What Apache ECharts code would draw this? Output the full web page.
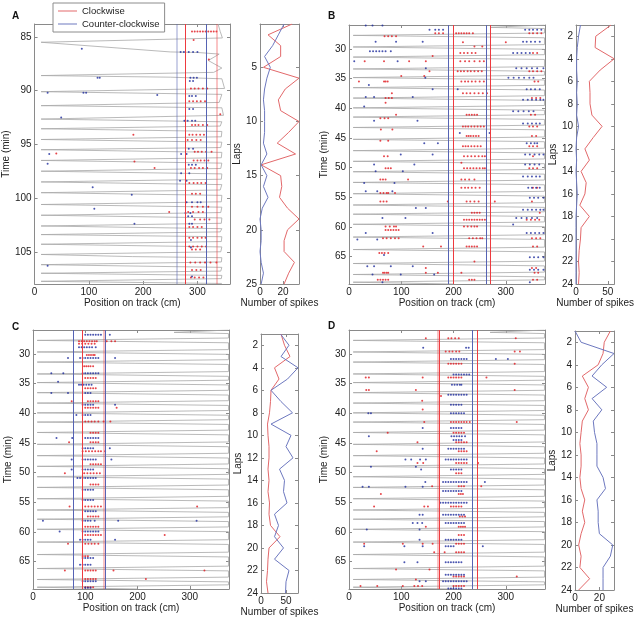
<!DOCTYPE html>
<html lang="en">
<head>
<meta charset="UTF-8">
<title>Spikes per lap</title>
<style>html,body{margin:0;background:#fff}#main{width:636px;height:621px}</style>
</head>
<body>
<div id="main"></div>
<script src="https://cdn.jsdelivr.net/npm/echarts@6/dist/echarts.min.js"></script>
<script>
// ---- data ----
// trajectory turning points [position cm, time min]
const trajA = [[338,83.8],[342,84.5],[346,85.1],[12,85.5],[250,86.4],[300,86.45],[340,86.6],[320,87.2],[345,87.9],[330,88.3],
  [12,88.6],[250,88.75],[345,88.9],[350,89.8],[12,90.1],[345,90.35],[340,91.1],[12,91.4],[345,91.6],[348,92.3],[12,92.65],
  [345,92.9],[342,93.3],[12,93.55],[345,93.8],[344,94.3],[12,94.55],[345,94.8],[343,95.3],[12,95.5],[345,95.75],[344,96.25],
  [12,96.5],[345,96.75],[343,97.25],[12,97.5],[345,97.75],[344,98.25],[12,98.5],[345,98.75],[342,99.25],[12,99.5],[345,99.75],
  [344,100.35],[12,100.6],[345,100.85],[343,101.35],[12,101.6],[345,101.85],[344,102.35],[12,102.6],[345,102.85],[342,103.15],
  [12,103.4],[345,103.6],[344,104.05],[12,104.3],[345,104.55],[343,105.0],[12,105.25],[180,105.45],[345,105.55],[344,105.95],
  [12,106.2],[345,106.45],[343,106.8],[12,107.0],[345,107.2],[344,107.5],[12,107.75],[345,107.95]];
const trajBCD = [[374,26.0],[270,26.4],[374,26.6],[374,27.35],[8,27.75],[374,28.15],[374,29.3],[8,29.7],[374,30.1],[374,31.0],
  [8,31.4],[374,31.8],[374,33.0],[8,33.4],[374,33.8],[374,34.45],[8,34.85],[374,35.25],[374,36.15],[8,36.55],[374,36.95],
  [374,37.9],[8,38.3],[374,38.7],[374,39.55],[8,39.95],[374,40.35],[374,41.1],[8,41.5],[374,41.9],[374,42.85],[8,43.25],
  [374,43.65],[374,44.85],[8,45.25],[374,45.65],[374,46.75],[8,47.15],[374,47.55],[374,48.55],[8,48.95],[374,49.35],
  [374,50.3],[8,50.7],[374,51.1],[374,52.1],[8,52.5],[374,52.9],[374,54.0],[8,54.4],[374,54.8],[374,55.9],[8,56.3],
  [374,56.7],[374,57.45],[8,57.85],[374,58.25],[374,59.15],[8,59.55],[374,59.95],[374,61.3],[8,61.7],[374,62.1],[374,63.4],
  [8,63.8],[374,64.2],[374,65.75],[8,66.15],[374,66.55],[374,67.6],[8,68.0],[374,68.4],[374,68.9],[8,69.3],[200,69.6]];

// spikes: [time, position, position, ...]
const redA = [[84.5,290,295,300,305,310,315,320,325,330,335],[85.3,293],[87.1,321],[89.8,288,295,302,310,318],
  [91.0,285,292,299,306,314],[92.2,342],[93.2,290,296,302,310,318],[94.1,182,285,291,298,305,312],[94.6,282,290,298,306],
  [95.7,295,301,308,316,326],[95.85,40],[96.5,293,300,306,313,320],[96.6,184],[97.2,221,288,295,303,310,318],
  [98.6,285,293,300,307,315],[99.6,290,297,305],[100.8,290,300,310,320],[101.3,248,283,292,302,310],[102.0,295,305,313,322],
  [102.7,285,292,300,308],[103.7,285,292,300,308,315],[104.5,285,292,300,308,316],[104.8,290,297,305],
  [106.0,287,296,305,314,324,335],[106.7,290,298,306],[107.4,288,295,303,311]];
const blueA = [[86.1,87],[86.4,269,275,284,292,300],[88.8,116,120,287,293,299],[89.1,286,292],[90.2,24,90,95],[90.4,226],
  [90.5,285,290,297],[91.7,285,292],[92.5,49],[92.8,276,282,290,296],[95.4,284,292],[95.9,27,270,280],[96.8,24],
  [96.9,284,290,297],[97.7,270,285],[98.4,268,280],[99.0,107],[99.7,179],[100.4,280,290,300,306],[101.0,110],[101.4,278,287],
  [101.7,283,290],[102.4,184,285,290],[103.9,288],[104.6,288],[106.3,24],[107.3,290]];
const redB = [[27.4,165,172,180,205,210,215,220,225,230,237,345,352,360,368],[27.9,68,75,82,90],[28.9,218,300],[29.6,240,255],
  [30.7,213,220,227,235,242,352,360],[31.2,160],[32.1,30,67,115,147,213,222,230,240,250,258],
  [33.8,154,208,214,220,227,233,240,247,254,345,352,360,368],[34.6,100,144],[35.5,19,67,70,74,215,222,228,235,242,250,258,355,362],
  [37.5,82,218,225,232,240,248,256,264],[38.3,70,76,82,350,358,366],[39.1,70],[41.1,90,225,230,235,240,245,348,356],[41.7,60,68,75],
  [43.1,218,223,228,234,240,246,252,258,345,352,360],[43.6,61,83],[44.7,225,229,233,238,243,248,350,358],[45.5,60,75],
  [46.4,218,223,228,234,240,246,252,345,352,360],[48.1,67,74,220,227,234,241,248,255,260,352],[49.2,215],
  [50.1,70,75,80,220,226,232,238,244,250,256,260,345,352,360],[52.0,60,65,70,113,215,222,230,240],
  [53.4,215,222,228,235,242,250,352,360],[54.3,60,66,72,75,88],[55.7,60,66,72,189,225,232,240,248,279,350],
  [57.6,235,240,245,250,365],[58.8,220,225,230,235,240,245,250,255,260,340,348,356,364],[59.9,70,78,86,90,220,227,234,240,245],
  [60.5,70,75,80,85,90,95],[61.9,65,72,80,88,95,230,237,244,251,255,350,358,366],[63.3,142,176,225,230,235,240,245,352,360],
  [64.4,58,63,68,75],[65.8,240],[66.9,147,350,358],[67.7,65,68,72,75,147,170,215,355,362],[68.9,55,60,65,70,75,230,235,240,352,360]];
const blueB = [[26.1,32,45,64],[26.8,154,165,172,180,337,345,352,360,368],[28.8,51,90,141,333,340,348,356,365],
  [30.4,40,46,52,58,64,70,80],[30.7,314,322,330,338,346],[32.1,10,93],[33.3,147,320,330,340,350,360,372],
  [34.9,146,305,315,325,335,345,353],[36.1,38],[36.8,160,208,340,348,356,365],[38.1,32,48,122],[38.6,333,342,350,358,366,372],
  [39.7,29],[40.5,314,324,334,344,353],[42.1,48,131],[42.6,333,342,350,358,365],[44.2,212,269],[45.9,144,170,340,348,355,360],
  [47.8,99,160,337,346,355,364,372],[49.5,48,125,337,346,355,364],[50.6,51,103],[51.5,333,342,350,358,365],[52.6,29,87],
  [53.4,343,350,358,365],[54.0,32,54,83],[55.1,346,354,362,372],[56.8,128,147],[57.1,333,342,350,358,366,372],
  [58.5,64,108,320,330,340,350,360],[59.6,314],[61.0,32,160,340,348,356,364,372],[62.1,16,54],[64.7,67],[65.1,346,354,362,372],
  [66.6,35,48,80,122],[67.2,346,354,362,372],[68.0,45,99,163],[69.3,64,346]];
const redC = [[27.9,88,93,98,103,108,113,118,122,141,150,157],[28.3,88,94,100,106,112,118],[30.2,103,107,111,115,118],
  [32.1,98,102,106,110,115],[34.1,100,105,110,115,120],[35.8,100,105,110,115,120],[38.0,74,105,110,115,120,125],
  [39.1,100,105,110,115,120,125,160],[41.4,100,106,112,118,125,135,148],[43.3,110,115,120,125],[44.9,69,110,115,120,125],
  [46.4,95,101,107,113,119,125,130,138],[48.6,110,115,120,125,130],[50.1,61,98,104,110,116,122,128],[52.0,110,115,120,125],
  [55.7,70,100,106,112,118,124,130,314],[57.4,105,110,115,120,125],[59.1,100,105,110,115,120,125],
  [60.5,100,105,110,115,120,125,130,252],[62.0,67,100,106,112,118,125],[64.1,95,100,105],[66.5,61,100,105,110,115,120,154,328],
  [67.9,100,105,110,115,120,216],[69.3,100,105,110,115]];
const blueC = [[26.8,100,105,110,115,120,125,130,147],[28.9,88,93,98,103,108,113,120],[30.7,67,90,95,100,105,110,115,120,125,157],
  [33.3,35,58,95,100,105,110,115,120,125],[34.7,48],[35.2,88,92,97,102,107,112],[36.6,35,67,100,105,110],
  [38.6,95,100,105,110,115,157],[40.3,83,95,100,105,110],[44.2,45,75,100,105,110,115,120,125],[45.9,95,100,105,110,115,147],
  [47.8,74,95,100,105,110,115,120,150],[49.5,74,95,100,105,110,115],[50.9,85,90,95,100,105,110,115,120],[52.9,95,100,105,110,115],
  [54.6,95,100,105,110,115],[56.5,100,105,110,115,120],[58.1,19,95,100,105,110,118,163,313],[59.9,51,95,100,105,110,115,120,125],
  [61.3,90,95,100,105,110,157],[64.4,95,100,105,110,115],[65.5,90,95,100,105,110],[68.3,95,100,105,110,115,120],[69.4,100,105,110]];
const redD = [[27.4,147,190,196,203,210,319],[29.6,185,192,198,205,211,317,327],[31.7,190,195,200,205,210,215,317],
  [34.0,32,38,141,190,195,200,205,210,215,263],[36.1,33,38,128,317],[37.1,176],[37.9,140],[39.4,141],
  [41.5,144,195,200,205,210,215,220,225,231,321],[43.3,74,200,205,210,215,220],[44.9,131,205,210,215,220,225],
  [46.4,53,210,215,220,225],[48.4,131,142,205,210,215,220,225,247],[50.1,205,210,215],[52.3,159,210,215,220,253],
  [53.6,61,210,214,218],[55.7,48,144,151,195,200,205,210,215],[57.4,212,217,222],[59.1,147,210,214,218,222],[60.5,210,215,220],
  [62.0,29,103,141,160,205,210,215,220],[63.4,163,183,205,210,215,220],[66.3,90,154],[67.5,200,205,210,215,220,321],[68.0,128],
  [69.1,22,54,103,125,132,140,200,205,210,215,220]];
const blueD = [[29.0,142,224,229],[30.9,195,200,205,210,215,220,225,281,304],[33.5,200,205,210,215,220,225,230],
  [35.2,197,202,207,212,215],[36.9,190,195,200,205,210,215,220,225],[38.6,195,200,205,210,215],[40.0,37,42,195,200,205,210,215,220],
  [42.5,141,195,200,205,210,215],[43.9,38,196,201,206,211,216,222],[44.5,200,205,210,215],[46.0,141,190,195,200,205,210,215,220],
  [47.8,108,119,136,147,185,190,195,200,205,210,215,220,225],[49.0,42,128],[49.5,138,195,200,205,210,215],
  [51.6,146,180,185,190,195,200,205,210,215,220,225,260],[52.4,26,38,108,141],[53.1,180,185,190,195,200,205,210,215],
  [55.1,175,180,185,190,195,200,205,210,215,220,225],[57.1,135,141,180,185,190,195,200,205,210,215,220],
  [58.5,122,131,140,185,190,195,200,205,210,215,220],[59.6,34,135],[61.3,135,185,190,195,200,205,210,215],
  [62.4,29,106,141,185,190,195,200,256],[65.1,106,131,185,190,195,200,205,210,215],[67.2,185,190,195,200,205,210,215,220],
  [68.3,135,147,180,185,190,195,200,205,210,215,220,225],[69.5,190,195,200,205,210,215]];

// field boundaries (cm) and which direction they belong to
const boundsA = [261, 277, 316, 335], kindsA = ['ccw', 'cw', 'ccw', 'cw'];
const boundsB = [190, 200, 263, 271], kindsB = ['ccw', 'cw', 'ccw', 'cw'];
const boundsC = [77, 95, 135, 138], kindsC = ['ccw', 'cw', 'cw', 'ccw'];
const boundsD = [169, 173, 236, 245], kindsD = ['cw', 'cw', 'ccw', 'cw'];

// spikes per lap
const lapsA = [1,2,3,4,5,6,7,8,9,10,11,12,13,14,15,16,17,18,19,20,21,22,23,24,25];
const lapsBCD = [1,2,3,4,5,6,7,8,9,10,11,12,13,14,15,16,17,18,19,20,21,22,23,24];
const cwCountA = [28,7,18,18,3,34,22,16,18,34,25,15,31,1,18,19,17,24,34,24,21,21,30,25,21];
const ccwCountA = [21,16,11,4,9,6,4,3,4,4,4,3,6,1,6,3,7,2,0,1,1,0,1,3,1];
const cwCountB = [55,31,30,60,38,21,22,22,25,41,27,14,21,8,16,14,6,21,8,7,5,4,5,4];
const ccwCountB = [7,4,2,1,1,2,1,2,1,4,1,0,1,0,1,2,1,0,0,0,0,0,0,0];
const cwCountC = [40,47,58,27,36,20,19,17,13,14,16,16,14,16,14,17,16,19,38,16,14,13,11,14];
const ccwCountC = [39,56,40,74,53,20,40,63,20,60,50,64,37,47,45,52,27,35,27,45,27,56,50,49];
const cwCountD = [29,24,23,19,6,11,8,11,6,5,4,5,5,4,5,8,6,8,5,3,5,4,12,3];
const ccwCountD = [0,5,32,22,14,26,14,22,15,16,18,18,18,23,25,18,19,19,20,31,29,23,23,23];

// tick labels
const posTicks = [0, 100, 200, 300];
const timeTicksA = [85, 90, 95, 100, 105];
const timeTicksBCD = [30, 35, 40, 45, 50, 55, 60, 65];
const lapTicksA = [5, 10, 15, 20, 25];
const lapTicksBCD = [2, 4, 6, 8, 10, 12, 14, 16, 18, 20, 22, 24];
const countTicksA = [0, 20], countTicksB = [0, 50], countTicksC = [0, 50], countTicksD = [0, 20];

// ---- layout ----
const panels = [
  {label: 'A', traj: trajA, red: redA, blue: blueA, bounds: boundsA, kinds: kindsA, faint: [true, false, false, true],
   laps: lapsA, cw: cwCountA, ccw: ccwCountA, posMax: 360, tMin: 83.8, tMax: 108, tTicks: timeTicksA,
   lapMax: 25, lapTicks: lapTicksA, cMax: 34, cTicks: countTicksA,
   main: {left: 33, top: 24, width: 197, height: 260}, side: {left: 260, top: 24, width: 39, height: 260}, letter: [12, 11]},
  {label: 'B', traj: trajBCD, red: redB, blue: blueB, bounds: boundsB, kinds: kindsB, faint: [false, false, false, false],
   laps: lapsBCD, cw: cwCountB, ccw: ccwCountB, posMax: 375, tMin: 26, tMax: 69.6, tTicks: timeTicksBCD,
   lapMax: 24, lapTicks: lapTicksBCD, cMax: 60, cTicks: countTicksB,
   main: {left: 349, top: 25, width: 196, height: 259}, side: {left: 576, top: 25, width: 39, height: 259}, letter: [328, 11]},
  {label: 'C', traj: trajBCD, red: redC, blue: blueC, bounds: boundsC, kinds: kindsC, faint: [false, false, true, false],
   laps: lapsBCD, cw: cwCountC, ccw: ccwCountC, posMax: 375, tMin: 26, tMax: 69.6, tTicks: timeTicksBCD,
   lapMax: 24, lapTicks: lapTicksBCD, cMax: 74, cTicks: countTicksC,
   main: {left: 33, top: 330, width: 196, height: 259}, side: {left: 261, top: 334, width: 37, height: 259}, letter: [12, 322]},
  {label: 'D', traj: trajBCD, red: redD, blue: blueD, bounds: boundsD, kinds: kindsD, faint: [true, false, false, false],
   laps: lapsBCD, cw: cwCountD, ccw: ccwCountD, posMax: 375, tMin: 26, tMax: 69.6, tTicks: timeTicksBCD,
   lapMax: 24, lapTicks: lapTicksBCD, cMax: 32, cTicks: countTicksD,
   main: {left: 349, top: 330, width: 196, height: 259}, side: {left: 575, top: 331, width: 39, height: 259}, letter: [328, 321]}
];

const font = "'Liberation Sans', Arial, sans-serif";
const axisColor = '#8a8a8a';
const cwColor = '#e0171d', ccwColor = '#1d2b9c';
const cwLine = '#e2686a', ccwLine = '#6d78bf';

function axis(gi, pos, min, max, ticks, extra) {
  const mirror = pos === 'top' || pos === 'right';
  return Object.assign({
    type: 'value', gridIndex: gi, position: pos, min: min, max: max,
    axisLine: {show: true, onZero: false, lineStyle: {color: axisColor, width: 1}},
    axisTick: {show: true, inside: true, length: 3, customValues: ticks, lineStyle: {color: axisColor}},
    axisLabel: {show: !mirror, customValues: ticks, fontSize: 10, color: '#222', fontFamily: font, margin: 3},
    splitLine: {show: false},
    nameLocation: 'middle',
    nameTextStyle: {fontSize: 10, color: '#222', fontFamily: font}
  }, extra || {});
}

const toPts = rows => rows.flatMap(r => r.slice(1).map(p => [p, r[0]]));

const grids = [], xAxes = [], yAxes = [], series = [], graphics = [];
panels.forEach((p, k) => {
  const gm = 2 * k, gs = 2 * k + 1;
  grids.push(Object.assign({containLabel: false}, p.main));
  grids.push(Object.assign({containLabel: false}, p.side));

  // main trajectory panel: axes 2*gm (bottom/left) and 2*gm+1 (top/right)
  xAxes.push(axis(gm, 'bottom', 0, p.posMax, posTicks, {name: 'Position on track (cm)', nameGap: 13}));
  xAxes.push(axis(gm, 'top', 0, p.posMax, posTicks));
  yAxes.push(axis(gm, 'left', p.tMin, p.tMax, p.tTicks, {inverse: true, name: 'Time (min)', nameGap: 20}));
  yAxes.push(axis(gm, 'right', p.tMin, p.tMax, p.tTicks, {inverse: true}));
  // spike count panel
  xAxes.push(axis(gs, 'bottom', 0, p.cMax, p.cTicks, {name: 'Number of spikes', nameGap: 13}));
  xAxes.push(axis(gs, 'top', 0, p.cMax, p.cTicks));
  yAxes.push(axis(gs, 'left', 1, p.lapMax, p.lapTicks, {inverse: true, name: 'Laps', nameGap: 15}));
  yAxes.push(axis(gs, 'right', 1, p.lapMax, p.lapTicks, {inverse: true}));

  const ai = 2 * gm, si = 2 * gs;
  series.push({
    type: 'line', name: 'track ' + p.label, xAxisIndex: ai, yAxisIndex: ai, data: p.traj,
    showSymbol: false, silent: true, z: 1,
    lineStyle: {color: '#a8a8a8', width: 0.8},
    markLine: {
      silent: true, symbol: 'none', label: {show: false}, animation: false,
      data: p.bounds.map((b, i) => ({
        xAxis: b,
        lineStyle: {type: 'solid', color: p.kinds[i] === 'cw' ? '#ee3a3f' : '#5663b4',
          width: p.faint[i] ? 2 : 1, opacity: p.faint[i] ? 0.3 : 1}
      }))
    }
  });
  series.push({type: 'scatter', name: 'cw spikes ' + p.label, xAxisIndex: ai, yAxisIndex: ai, data: toPts(p.red),
    symbolSize: 2, itemStyle: {color: cwColor}, silent: true, z: 3});
  series.push({type: 'scatter', name: 'ccw spikes ' + p.label, xAxisIndex: ai, yAxisIndex: ai, data: toPts(p.blue),
    symbolSize: 2, itemStyle: {color: ccwColor}, silent: true, z: 3});
  series.push({type: 'line', name: 'Clockwise', xAxisIndex: si, yAxisIndex: si,
    data: p.laps.map((l, i) => [p.cw[i], l]), showSymbol: false, silent: true,
    itemStyle: {color: cwLine}, lineStyle: {color: cwLine, width: 1}});
  series.push({type: 'line', name: 'Counter-clockwise', xAxisIndex: si, yAxisIndex: si,
    data: p.laps.map((l, i) => [p.ccw[i], l]), showSymbol: false, silent: true,
    itemStyle: {color: ccwLine}, lineStyle: {color: ccwLine, width: 1}});

  graphics.push({type: 'text', left: p.letter[0], top: p.letter[1],
    style: {text: p.label, font: 'bold 10px ' + font, fill: '#111'}});
});

const chart = echarts.init(document.getElementById('main'), null, {renderer: 'canvas'});
chart.setOption({
  animation: false,
  backgroundColor: '#fff',
  grid: grids,
  xAxis: xAxes,
  yAxis: yAxes,
  series: series,
  graphic: graphics,
  legend: {
    data: ['Clockwise', 'Counter-clockwise'], orient: 'vertical', left: 53, top: 3,
    padding: [3, 5, 3, 5], itemGap: 3, itemWidth: 19, itemHeight: 1, icon: 'rect',
    backgroundColor: '#fff', borderColor: '#8c8c8c', borderWidth: 1, selectedMode: false, z: 10,
    textStyle: {fontSize: 9.5, fontFamily: font, color: '#222', padding: [0, 0, 0, 0]}
  }
});
</script>
</body>
</html>
